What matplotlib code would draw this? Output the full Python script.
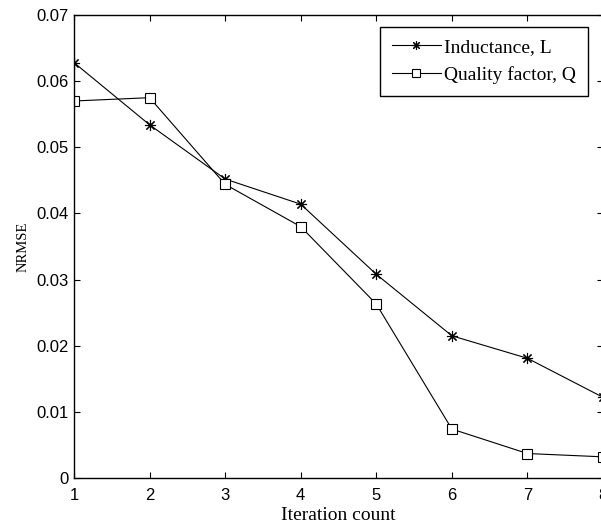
import matplotlib
matplotlib.use("Agg")
import matplotlib.pyplot as plt

iterations = [1, 2, 3, 4, 5, 6, 7, 8]
nrmse_L = [0.0628, 0.0534, 0.0452, 0.0414, 0.0308, 0.0215, 0.0181, 0.0122]
nrmse_Q = [0.0570, 0.0575, 0.0444, 0.0380, 0.0263, 0.0074, 0.0037, 0.0032]
x_ticks = [1, 2, 3, 4, 5, 6, 7, 8]
y_ticks = [0, 0.01, 0.02, 0.03, 0.04, 0.05, 0.06, 0.07]
y_tick_labels = ["0", "0.01", "0.02", "0.03", "0.04", "0.05", "0.06", "0.07"]

serif = ["Liberation Serif", "DejaVu Serif"]
sans = ["Liberation Sans", "DejaVu Sans"]

fig = plt.figure(figsize=(6.01, 5.28), dpi=100)
ax = fig.add_axes([74 / 601, 50 / 528, 529 / 601, 463 / 528])

ax.plot(iterations, nrmse_L, color="black", lw=0.8, marker=(8, 2, 0),
        markersize=8, markeredgewidth=0.8, label="Inductance, L")
ax.plot(iterations, nrmse_Q, color="black", lw=0.8, marker="s",
        markersize=7, markerfacecolor="white", markeredgewidth=0.8,
        label="Quality factor, Q")

ax.set_xlim(1, 8)
ax.set_ylim(0, 0.07)
ax.set_xticks(x_ticks)
ax.set_yticks(y_ticks)
ax.set_yticklabels(y_tick_labels)
ax.tick_params(direction="in", length=4, width=0.8, top=True, right=True,
               labelsize=12)
ax.tick_params(axis="x", pad=7)
ax.tick_params(axis="y", pad=4)
for lab in ax.get_xticklabels() + ax.get_yticklabels():
    lab.set_family(sans)
for sp in ax.spines.values():
    sp.set_linewidth(1.0)

ax.set_xlabel("Iteration count", family=serif, fontsize=14, labelpad=3)
ax.set_ylabel("NRMSE", family=serif, fontsize=10.5, labelpad=5)

leg = ax.legend(loc="upper right", bbox_to_anchor=(588 / 601, 1 - 27 / 528),
                bbox_transform=fig.transFigure, borderaxespad=0,
                prop={"family": serif, "size": 14},
                fancybox=False, edgecolor="black", framealpha=1,
                handlelength=2.5, handletextpad=0.2, borderpad=0.6,
                labelspacing=0.5, markerscale=0.8)
leg.get_frame().set_linewidth(1.0)

fig.savefig("out.png", dpi=100)
